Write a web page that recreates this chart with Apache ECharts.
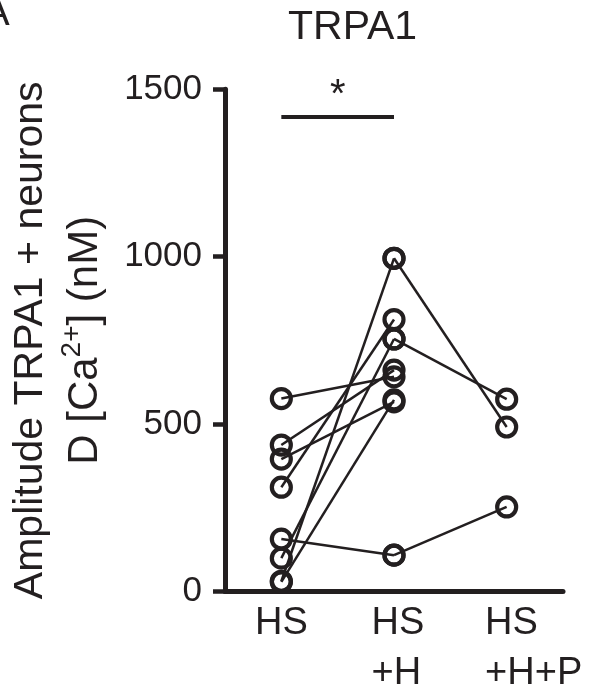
<!DOCTYPE html>
<html>
<head>
<meta charset="utf-8">
<script src="https://cdn.jsdelivr.net/npm/echarts@6/dist/echarts.min.js"></script>
<style>
  html, body { margin: 0; padding: 0; background: #ffffff; }
  #chart { width: 593px; height: 694px; }
</style>
</head>
<body>
<div id="chart"></div>
<script>
// Conditions on the x axis
const categories = ['HS', 'HS\n+H', 'HS\n+H+P'];
// Y axis range and ticks (nM)
const yMin = 0;
const yMax = 1500;
const yStep = 500;

// Paired recordings HS -> HS+H, one entry per neuron
const hsValues  = [576, 437, 395, 311, 156, 99, 30, 28];
const hsHValues = [641, 661, 566, 812, 108, 754, 995, 572];

// Paired recordings HS+H -> HS+H+P
const hsHPairStart = [995, 754, 108];
const hsHPValues   = [491, 574, 252];

// Significance bracket between HS and HS+H
const sigLevel = 1419;
const sigText = '*';

const ink = '#231f20';
const font = '"Liberation Sans", Arial, Helvetica, sans-serif';

// Left spacing that places each multi-line category label
const labelShift = [0, 8, 54];

const chart = echarts.init(document.getElementById('chart'), null, { renderer: 'canvas' });

function pairSeries(fromIdx, toIdx, a, b) {
  return {
    type: 'line',
    data: [[fromIdx, a], [toIdx, b]],
    symbol: 'circle',
    symbolSize: 19,
    showSymbol: true,
    itemStyle: { color: 'rgba(255,255,255,0)', borderColor: ink, borderWidth: 4.2 },
    lineStyle: { color: ink, width: 2.5 },
    emphasis: { disabled: true },
    silent: true,
    z: 3
  };
}

const series = [];
hsValues.forEach((v, i) => series.push(pairSeries(0, 1, v, hsHValues[i])));
hsHPairStart.forEach((v, i) => series.push(pairSeries(1, 2, v, hsHPValues[i])));

series[0].markLine = {
  symbol: 'none',
  silent: true,
  animation: false,
  lineStyle: { type: 'solid', color: ink, width: 4 },
  label: {
    show: true,
    formatter: sigText,
    position: 'middle',
    distance: 0,
    color: ink,
    fontFamily: font,
    fontSize: 40
  },
  data: [[{ coord: [0, sigLevel] }, { coord: [1, sigLevel] }]]
};

const richX = { t: { fontSize: 38, fontFamily: font, color: ink, lineHeight: 50, align: 'left' } };
labelShift.forEach((w, i) => {
  richX['s' + i] = { width: w, fontSize: 38, lineHeight: 50, align: 'left' };
});

chart.setOption({
  animation: false,
  backgroundColor: '#ffffff',
  title: {
    text: 'TRPA1',
    left: 283,
    top: 2,
    textStyle: { color: ink, fontFamily: font, fontSize: 41, fontWeight: 'normal' }
  },
  graphic: [{
    type: 'text',
    left: -17,
    top: -6,
    style: { text: 'A', fontSize: 40, fontFamily: font, fill: ink }
  }],
  grid: {
    left: 225, right: 30, top: 89.3, bottom: 102.7,
    containLabel: false,
    outerBoundsMode: 'none'
  },
  xAxis: {
    type: 'category',
    data: categories,
    boundaryGap: true,
    axisLine: { show: true, lineStyle: { color: ink, width: 5 } },
    axisTick: { show: false },
    splitLine: { show: false },
    axisLabel: {
      margin: 7,
      interval: 0,
      color: ink,
      fontFamily: font,
      fontSize: 38,
      lineHeight: 50,
      formatter: (value, idx) => value.split('\n')
        .map(line => (labelShift[idx] ? '{s' + idx + '|\u00a0}' : '') + '{t|' + line + '}')
        .join('\n'),
      rich: richX
    }
  },
  yAxis: {
    type: 'value',
    min: yMin,
    max: yMax,
    interval: yStep,
    axisLine: { show: true, lineStyle: { color: ink, width: 5 } },
    axisTick: { show: true, length: 12, lineStyle: { color: ink, width: 4.5 } },
    splitLine: { show: false },
    axisLabel: {
      margin: 23, color: ink, fontFamily: font, fontSize: 35,
      formatter: v => String(v)
    },
    name: '{a|Amplitude TRPA1 + neurons}\n{b|D [Ca}{sup|2+}{b|] (nM)}',
    nameLocation: 'middle',
    nameRotate: 90,
    nameGap: 108,
    nameTextStyle: {
      color: ink,
      fontFamily: font,
      lineHeight: 55,
      rich: {
        a: { fontSize: 41, fontFamily: font, color: ink, lineHeight: 55, align: 'center' },
        b: { fontSize: 42, fontFamily: font, color: ink, lineHeight: 55, align: 'center' },
        sup: { fontSize: 28, fontFamily: font, color: ink, lineHeight: 55, align: 'center', verticalAlign: 'top' }
      }
    }
  },
  series: series
});
</script>
</body>
</html>
